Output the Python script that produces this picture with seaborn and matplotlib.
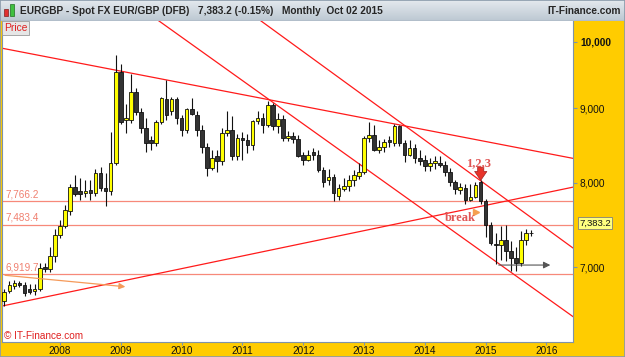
import numpy as np
import pandas as pd
import matplotlib
matplotlib.use("Agg")
import matplotlib.pyplot as plt
from matplotlib.ticker import NullLocator, NullFormatter
from matplotlib.patches import Rectangle
import seaborn as sns

# Monthly EUR/GBP candles (x10000), Feb 2007 .. Oct 2015
months = pd.date_range("2007-02-01", "2015-10-01", freq="MS")
opens = [6630, 6735, 6790, 6825, 6800, 6760, 6735, 6760, 7000, 6975, 7120,
         7365, 7465, 7650, 7950, 7890, 7870, 7905, 7865, 8125, 7935, 7890, 8260,
         9540, 8840, 8840, 9236, 8955, 8720, 8560, 8520, 8810, 9140, 8960, 9130,
         8860, 8700, 8985, 8907, 8700, 8460, 8190, 8340, 8275, 8660, 8700, 8346,
         8590, 8560, 8495, 8820, 8860, 8765, 9050, 8750, 8845, 8590, 8610, 8570,
         8355, 8295, 8400, 8355, 8165, 8037, 8075, 7836, 7920, 7953, 8037, 8080,
         8140, 8590, 8627, 8428, 8470, 8562, 8520, 8750, 8520, 8362, 8450, 8320,
         8290, 8210, 8255, 8260, 8230, 8140, 8010, 7911, 7932, 7787, 7827, 8010,
         7766, 7483, 7265, 7250, 7310, 7176, 7100, 7045, 7310, 7386]
highs = [6760, 6845, 6860, 6850, 6840, 6810, 6810, 7040, 7040, 7225, 7430,
         7545, 7725, 7990, 8100, 8060, 8030, 8030, 8180, 8200, 8130, 8670, 9800,
         9650, 9060, 9510, 9290, 9000, 8860, 8620, 8840, 9170, 9410, 9160, 9170,
         8910, 9000, 9150, 8960, 8760, 8520, 8430, 8430, 8720, 8965, 8890, 8640,
         8670, 8640, 8840, 8965, 8930, 9100, 9080, 8930, 8910, 8680, 8670, 8630,
         8405, 8428, 8450, 8420, 8200, 8170, 8110, 7990, 8066, 8100, 8160, 8250,
         8620, 8810, 8760, 8560, 8570, 8620, 8780, 8770, 8562, 8560, 8500, 8420,
         8360, 8320, 8350, 8340, 8280, 8190, 8030, 8000, 7980, 7990, 8010, 8040,
         7800, 7520, 7390, 7465, 7483, 7300, 7230, 7408, 7440, 7420]
lows = [6580, 6715, 6760, 6780, 6690, 6710, 6700, 6740, 6940, 6940, 7060,
        7330, 7450, 7600, 7830, 7790, 7820, 7790, 7830, 7900, 7710, 7850, 8230,
        8780, 8650, 8800, 8900, 8660, 8400, 8420, 8480, 8780, 8840, 8900, 8780,
        8610, 8660, 8900, 8620, 8380, 8080, 8160, 8140, 8230, 8620, 8300, 8300,
        8295, 8380, 8420, 8780, 8655, 8740, 8700, 8650, 8545, 8550, 8525, 8330,
        8230, 8280, 8290, 8140, 7945, 7970, 7766, 7790, 7900, 7900, 7960, 8050,
        8110, 8540, 8410, 8380, 8400, 8460, 8480, 8480, 8272, 8340, 8260, 8230,
        8150, 8150, 8170, 8200, 8090, 7960, 7860, 7860, 7740, 7770, 7810, 7740,
        7340, 7250, 7030, 7080, 7063, 6960, 6952, 7010, 7250, 7350]
closes = [6730, 6800, 6825, 6800, 6720, 6730, 6765, 6990, 6975, 7120, 7370,
          7465, 7665, 7950, 7860, 7860, 7900, 7870, 8125, 7935, 7890, 8250, 9540,
          8815, 8870, 9236, 8955, 8720, 8525, 8525, 8810, 9145, 8910, 9130, 8860,
          8700, 8985, 8920, 8700, 8460, 8190, 8320, 8275, 8660, 8700, 8346, 8590,
          8560, 8495, 8820, 8860, 8765, 9050, 8750, 8845, 8590, 8610, 8570, 8350,
          8295, 8362, 8362, 8165, 8015, 8071, 7870, 7932, 7961, 8037, 8100, 8140,
          8590, 8627, 8428, 8470, 8540, 8540, 8750, 8520, 8362, 8450, 8320, 8275,
          8210, 8255, 8287, 8230, 8140, 8010, 7915, 7946, 7787, 7827, 7974, 7766,
          7483, 7272, 7250, 7310, 7176, 7100, 7045, 7310, 7386, 7383.2]

levels = [7766.2, 7483.4, 6919.7]
level_labels = ["7,766.2", "7,483.4", "6,919.7"]

# trend lines: (start year, end year), (start price, end price)
trend_x = [(2007.05, 2016.44), (2009.56, 2016.44), (2011.24, 2016.44), (2007.05, 2016.44)]
trend_p = [(9900, 8315), (10386, 6470), (10386, 7213), (6581, 7945)]

year_ticks = list(range(2008, 2017))
price_ticks = [7000, 8000, 9000, 10000]
price_tick_labels = ["7,000", "8,000", "9,000", "10,000"]
last_price = 7383.2

df = pd.DataFrame({"t": months.year + (months.month - 1) / 12,
                   "o": opens, "h": highs, "l": lows, "c": closes})

sns.set_theme(style="white")
plt.rcParams["font.family"] = ["Liberation Sans", "DejaVu Sans"]

W, H = 625, 357
fig = plt.figure(figsize=(W / 100, H / 100), dpi=100, facecolor="#ffcc00")
ax = fig.add_axes([2 / W, 15 / H, 571 / W, 321 / H])
ax.set_facecolor("white")
ax.set_yscale("log")

# horizontal levels
for lv, lab in zip(levels, level_labels):
    ax.axhline(lv, color="#f7897a", lw=0.9, zorder=1)
    ax.text(2007.1, lv * 1.003, lab, color="#f08070", fontsize=7.2, va="bottom", ha="left")

# trend lines
for xs, ps in zip(trend_x, trend_p):
    sns.lineplot(x=list(xs), y=list(ps), ax=ax, color="#ff1a1a", lw=0.9, zorder=1)

# candles
up = df.c >= df.o
ax.vlines(df.t, df.l, df.h, color="#111111", lw=0.8, zorder=2)
bw = 0.06
ax.bar(df.t[up], (df.c - df.o)[up].clip(lower=3), bottom=df.o[up], width=bw,
       color="#ffff00", edgecolor="#111111", lw=0.6, zorder=3)
ax.bar(df.t[~up], (df.o - df.c)[~up], bottom=df.c[~up], width=bw,
       color="#333333", edgecolor="#111111", lw=0.6, zorder=3)

# annotations
ax.annotate("", xy=(2009.12, 6782), xytext=(2007.05, 6912),
            arrowprops=dict(arrowstyle="-|>", color="#f59a5a", lw=0.9, mutation_scale=9))
ax.annotate("", xy=(2016.11, 7022), xytext=(2015.17, 7022),
            arrowprops=dict(arrowstyle="-|>", color="#555555", lw=0.8, mutation_scale=10))
ax.annotate("", xy=(2014.92, 8030), xytext=(2014.92, 8200),
            arrowprops=dict(arrowstyle="simple,head_width=1.1,head_length=0.8,tail_width=0.55",
                            fc="#e8332a", ec="#a02020", lw=0.5, mutation_scale=8,
                            shrinkA=0, shrinkB=0))
ax.text(2014.89, 8247, "1,2,3", family="Liberation Serif", fontweight="bold",
        fontsize=9, color="#e05555", ha="center", va="center")
ax.text(2014.58, 7560, "break", family="Liberation Serif", fontweight="bold",
        fontsize=9, color="#e05555", ha="center", va="center")
ax.plot([2014.842], [7642], marker=">", ms=5, color="#f5a050", ls="none")

ax.set_xlim(2007.046, 2016.4375)
ax.set_ylim(6216, 10337)

ax.yaxis.tick_right()
ax.set_yticks(price_ticks)
ax.set_yticklabels(price_tick_labels)
ax.yaxis.set_minor_locator(NullLocator())
ax.yaxis.set_minor_formatter(NullFormatter())
ax.get_yticklabels()[-1].set_fontweight("bold")
ax.tick_params(axis="y", which="major", direction="out", length=3, width=0.8,
               color="#7f93a8", pad=2, labelsize=7.3, labelcolor="#111111", right=True)
ax.set_xticks(year_ticks)
ax.set_xticklabels([str(y) for y in year_ticks])
ax.tick_params(axis="x", direction="out", length=2, width=0.8, color="#7f93a8",
               pad=1, labelsize=7.2, labelcolor="#111111", bottom=True)
for s in ["left", "right", "bottom"]:
    ax.spines[s].set_color("#7f93a8")
    ax.spines[s].set_linewidth(0.8)
ax.spines["top"].set_visible(False)
ax.set_xlabel("")
ax.set_ylabel("")

# header bar
hax = fig.add_axes([0, 1 - 21 / H, 1, 21 / H])
grad = np.linspace(0, 1, 50).reshape(-1, 1)
hax.imshow(grad, aspect="auto", cmap=matplotlib.colors.LinearSegmentedColormap.from_list(
    "hdr", ["#e4e9ee", "#bcc8d2"]), extent=[0, 1, 0, 1])
hax.axhline(0.02, color="#8a9aaa", lw=1)
hax.set_axis_off()
hax.add_patch(Rectangle((4 / W, 0.25), 4 / W, 0.3, fc="#e03030", ec="#802020", lw=0.5))
hax.add_patch(Rectangle((10 / W, 0.25), 4 / W, 0.55, fc="#40c040", ec="#207020", lw=0.5))
hax.set_xlim(0, 1)
hax.set_ylim(0, 1)

ty = 1 - 10.5 / H
fig.text(20 / W, ty, "EURGBP - Spot FX EUR/GBP (DFB)", fontsize=7.3, fontweight="bold", va="center")
fig.text(198 / W, ty, "7,383.2 (-0.15%)", fontsize=7.3, fontweight="bold", va="center")
fig.text(282 / W, ty, "Monthly  Oct 02 2015", fontsize=7.3, fontweight="bold", va="center")
fig.text(621 / W, ty, "IT-Finance.com", fontsize=7.3, fontweight="bold", va="center", ha="right")

fig.text(4 / W, 1 - 28 / H, "Price", fontsize=7.4, color="#e02020", va="center",
         bbox=dict(fc="#e6e6e6", ec="#9a9a9a", lw=0.6, pad=1.2))
fig.text(4 / W, 1 - 336 / H, "\u00a9 IT-Finance.com", fontsize=7.2, color="#e02020", va="center")
fig.text(579 / W, 1 - 223 / H, f"{last_price:,.1f}", fontsize=6.8, color="#111111", va="center",
         bbox=dict(fc="#ffff80", ec="#808080", lw=0.6, pad=1.0))

fig.patches.append(Rectangle((0, 0), 1, 1, transform=fig.transFigure, fill=False,
                             ec="#8a9aaa", lw=1.2))

fig.savefig("out.png", dpi=100, facecolor=fig.get_facecolor())
